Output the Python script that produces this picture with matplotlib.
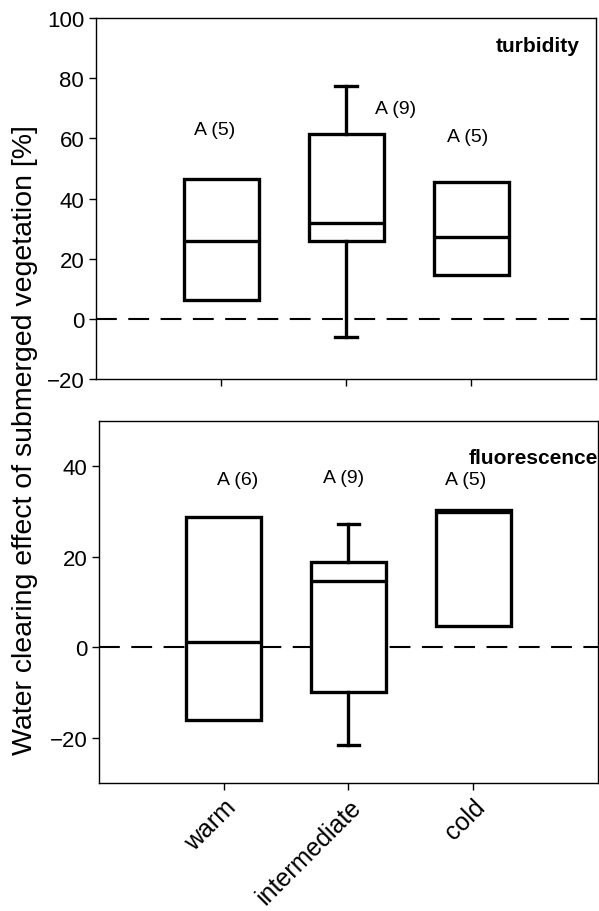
import matplotlib
matplotlib.use("Agg")
import matplotlib.pyplot as plt
import numpy as np

plt.rcParams['font.family'] = ['Liberation Sans', 'DejaVu Sans']

categories = ["warm", "intermediate", "cold"]

# turbidity panel
turb_q1 = [6.3, 26.0, 14.6]
turb_med = [26.0, 32.0, 27.2]
turb_q3 = [46.5, 61.5, 45.5]
turb_wlo = [np.nan, -6.0, np.nan]
turb_whi = [np.nan, 77.5, np.nan]
turb_labels = ["A (5)", "A (9)", "A (5)"]
turb_label_y = [63.0, 70.0, 60.5]
turb_label_x = [0.95, 2.4, 2.97]

# fluorescence panel
fluo_q1 = [-16.1, -10.0, 4.7]
fluo_med = [1.2, 14.6, 29.8]
fluo_q3 = [28.8, 18.9, 30.3]
fluo_wlo = [np.nan, -21.7, np.nan]
fluo_whi = [np.nan, 27.3, np.nan]
fluo_labels = ["A (6)", "A (9)", "A (5)"]
fluo_label_y = [37.0, 37.5, 37.0]
fluo_label_x = [1.11, 1.96, 2.94]

fig = plt.figure(figsize=(5.99, 9.12), dpi=100)
ax1 = fig.add_axes([0.1603, 0.5833, 0.995 - 0.1603, 0.9792 - 0.5833])
ax2 = fig.add_axes([0.1653, 0.1404, 0.998 - 0.1653, 0.5373 - 0.1404])

pos = np.arange(1, len(categories) + 1)


def draw(ax, q1, med, q3, wlo, whi):
    stats = []
    for i in range(len(categories)):
        lo = wlo[i] if not np.isnan(wlo[i]) else q1[i]
        hi = whi[i] if not np.isnan(whi[i]) else q3[i]
        stats.append(dict(q1=q1[i], med=med[i], q3=q3[i], whislo=lo, whishi=hi,
                          fliers=[], label=categories[i]))
    res = ax.bxp(stats, positions=pos, widths=0.6, patch_artist=True, showfliers=False,
                 boxprops=dict(facecolor='white', edgecolor='black', linewidth=2.4),
                 medianprops=dict(color='black', linewidth=2.4),
                 whiskerprops=dict(color='black', linewidth=2.4),
                 capprops=dict(color='black', linewidth=2.4),
                 capwidths=0.17, zorder=3)
    for i in range(len(categories)):
        if np.isnan(wlo[i]):
            res['caps'][2 * i].set_visible(False)
            res['whiskers'][2 * i].set_visible(False)
        if np.isnan(whi[i]):
            res['caps'][2 * i + 1].set_visible(False)
            res['whiskers'][2 * i + 1].set_visible(False)
    ax.axhline(0, color='black', linewidth=1.5, dashes=(10, 5.5), zorder=1)
    ax.set_xlim(0, 4)
    ax.set_xticks(pos)
    for s in ax.spines.values():
        s.set_linewidth(1.0)
    ax.tick_params(direction='out', length=5, width=1, labelsize=16)


draw(ax1, turb_q1, turb_med, turb_q3, turb_wlo, turb_whi)
draw(ax2, fluo_q1, fluo_med, fluo_q3, fluo_wlo, fluo_whi)

ax1.set_ylim(-20, 100)
ax1.set_yticks([-20, 0, 20, 40, 60, 80, 100])
ax1.set_xticklabels([])
ax2.set_ylim(-30, 50)
ax2.set_yticks([-20, 0, 20, 40])
ax2.set_xticklabels(categories, rotation=45, ha='right', rotation_mode='anchor', fontsize=18)

for x, y, t in zip(turb_label_x, turb_label_y, turb_labels):
    ax1.text(x, y, t, ha='center', va='center', fontsize=14)
for x, y, t in zip(fluo_label_x, fluo_label_y, fluo_labels):
    ax2.text(x, y, t, ha='center', va='center', fontsize=14)

ax1.text(3.87, 91, "turbidity", ha='right', va='center', fontsize=15, fontweight='bold')
ax2.text(4.0, 42, "fluorescence", ha='right', va='center', fontsize=15, fontweight='bold',
         clip_on=False)

fig.text(0.042, 0.517, "Water clearing effect of submerged vegetation [%]",
         rotation=90, ha='center', va='center', fontsize=20.5)

fig.savefig("out.png", dpi=100)
